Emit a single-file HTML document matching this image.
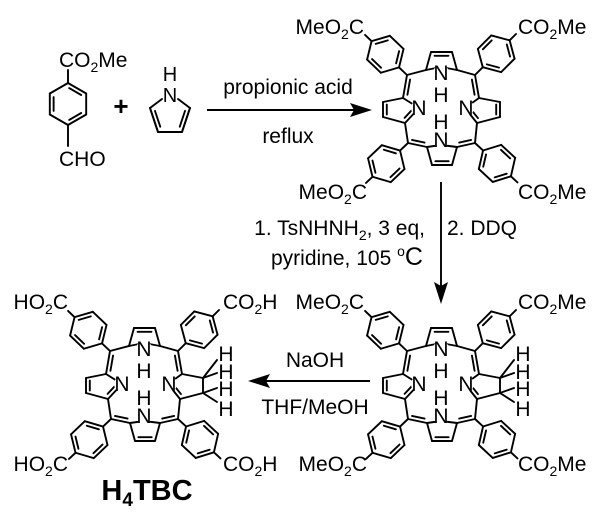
<!DOCTYPE html>
<html><head><meta charset="utf-8"><style>
html,body{margin:0;padding:0;background:#fff;}
svg{display:block;}
text{font-family:"Liberation Sans",Arial,sans-serif;fill:#000;}
</style></head><body>
<svg id="s" width="600" height="519" viewBox="0 0 600 519" xmlns="http://www.w3.org/2000/svg" font-size="21">
<g id="bonds" stroke="#000" stroke-width="1.9" fill="none" stroke-linecap="round"></g>
<g id="masks" fill="#fff"></g>
<g id="txt">
<text x="59" y="67">CO<tspan font-size="14" dy="5">2</tspan><tspan dy="-5">Me</tspan></text>
<text x="59" y="166">CHO</text>
<text x="121" y="115" text-anchor="middle" font-weight="bold" font-size="26">+</text>
<text x="170" y="81" text-anchor="middle" font-size="20">H</text>
<text x="170" y="102" text-anchor="middle" font-size="20">N</text>
<text x="288" y="94" text-anchor="middle">propionic acid</text>
<text x="288" y="143" text-anchor="middle">reflux</text>
<text x="425" y="235" text-anchor="end">1. TsNHNH<tspan font-size="14" dy="5">2</tspan><tspan dy="-5">, 3 eq,</tspan></text>
<text x="271" y="265">pyridine, 105 <tspan font-size="14" dy="-9">o</tspan><tspan dy="9" font-size="25">C</tspan></text>
<text x="447" y="235">2. DDQ</text>
<text x="315" y="367" text-anchor="middle">NaOH</text>
<text x="315" y="414" text-anchor="middle">THF/MeOH</text>
<text x="147" y="500" text-anchor="middle" font-weight="bold" font-size="29">H<tspan font-size="19" dy="6">4</tspan><tspan dy="-6">TBC</tspan></text>
<text x="364" y="34" text-anchor="end">MeO<tspan font-size="14" dy="5">2</tspan><tspan dy="-5">C</tspan></text>
<text x="518" y="34">CO<tspan font-size="14" dy="5">2</tspan><tspan dy="-5">Me</tspan></text>
<text x="367" y="199" text-anchor="end">MeO<tspan font-size="14" dy="5">2</tspan><tspan dy="-5">C</tspan></text>
<text x="518" y="199">CO<tspan font-size="14" dy="5">2</tspan><tspan dy="-5">Me</tspan></text>
<text x="364" y="309" text-anchor="end">MeO<tspan font-size="14" dy="5">2</tspan><tspan dy="-5">C</tspan></text>
<text x="518" y="309">CO<tspan font-size="14" dy="5">2</tspan><tspan dy="-5">Me</tspan></text>
<text x="367" y="471" text-anchor="end">MeO<tspan font-size="14" dy="5">2</tspan><tspan dy="-5">C</tspan></text>
<text x="518" y="471">CO<tspan font-size="14" dy="5">2</tspan><tspan dy="-5">Me</tspan></text>
<text x="68" y="309" text-anchor="end">HO<tspan font-size="14" dy="5">2</tspan><tspan dy="-5">C</tspan></text>
<text x="223" y="309">CO<tspan font-size="14" dy="5">2</tspan><tspan dy="-5">H</tspan></text>
<text x="68" y="471" text-anchor="end">HO<tspan font-size="14" dy="5">2</tspan><tspan dy="-5">C</tspan></text>
<text x="223" y="471">CO<tspan font-size="14" dy="5">2</tspan><tspan dy="-5">H</tspan></text>
</g>
<g id="ptxt" font-size="20"></g>
<g stroke="#000" stroke-width="1.9">
<line x1="207" y1="110" x2="358" y2="110"/>
<line x1="441" y1="182" x2="441" y2="290"/>
<line x1="370" y1="381" x2="262" y2="381"/>
</g>
<g fill="#000">
<polygon points="372,110 350,103 354,110 350,117"/>
<polygon points="441,304 434,282 441,286 448,282"/>
<polygon points="248,381 270,374 266,381 270,388"/>
</g>
</svg>
<script>
var B=document.getElementById('bonds'),M=document.getElementById('masks'),T=document.getElementById('ptxt');
var NS='http://www.w3.org/2000/svg';
function ln(a,b){var l=document.createElementNS(NS,'line');l.setAttribute('x1',a[0]);l.setAttribute('y1',a[1]);l.setAttribute('x2',b[0]);l.setAttribute('y2',b[1]);B.appendChild(l);}
function dbl(a,b,c){ln(a,b);var dx=b[0]-a[0],dy=b[1]-a[1],L=Math.hypot(dx,dy);var nx=-dy/L,ny=dx/L;var mx=(a[0]+b[0])/2-c[0],my=(a[1]+b[1])/2-c[1];if(nx*mx+ny*my>0){nx=-nx;ny=-ny;}var o=3.8,s=0.17;ln([a[0]+dx*s+nx*o,a[1]+dy*s+ny*o],[b[0]-dx*s+nx*o,b[1]-dy*s+ny*o]);}
function mask(x,y,r){var c=document.createElementNS(NS,'circle');c.setAttribute('cx',x);c.setAttribute('cy',y);c.setAttribute('r',r);M.appendChild(c);}
function tx(x,y,s){var t=document.createElementNS(NS,'text');t.setAttribute('x',x);t.setAttribute('y',y);t.setAttribute('text-anchor','middle');t.setAttribute('font-size','21');t.textContent=s;T.appendChild(t);}
function phen(m,d,R){var L=Math.hypot(d[0],d[1]);var u=[d[0]/L,d[1]/L];var p0=[m[0]+u[0]*11,m[1]+u[1]*11];ln(m,p0);var c=[p0[0]+u[0]*R,p0[1]+u[1]*R];var a0=Math.atan2(-u[1],-u[0]);var v=[];for(var k=0;k<6;k++){var a=a0+k*Math.PI/3;v.push([c[0]+R*Math.cos(a),c[1]+R*Math.sin(a)]);}
for(var k=0;k<6;k++){if(k%2==1)dbl(v[k],v[(k+1)%6],c);else ln(v[k],v[(k+1)%6]);}
var p3=v[3];ln(p3,[p3[0]+u[0]*9,p3[1]+u[1]*9]);}
function hexV(c,R,a0,dbls){var v=[];for(var k=0;k<6;k++){var a=a0+k*Math.PI/3;v.push([c[0]+R*Math.cos(a),c[1]+R*Math.sin(a)]);}for(var k=0;k<6;k++){if(dbls.indexOf(k)>=0)dbl(v[k],v[(k+1)%6],c);else ln(v[k],v[(k+1)%6]);}return v;}
function porph(ox,oy,red){function P(x,y){return [x+ox,y+oy];}
var tαL=P(426,70),tβL=P(431,52),tβR=P(452,52),tαR=P(457,70),mTL=P(407,75),mTR=P(475,75),
lαT=P(403,98),lβT=P(383,102),lβB=P(383,117),lαB=P(405,123),rαT=P(479,98),rβT=P(500,102),rβB=P(500,117),rαB=P(477,123),
mBL=P(408,143),mBR=P(475,143),bαL=P(427,147),bβL=P(432,165),bβR=P(452,165),bαR=P(457,147);
var Nt=P(441,67),Nl=P(419,108),Nr=P(465,108),Nb=P(441,145);
var cT=P(441,62),cL=P(397,110),cR=P(486,110),cB=P(441,157),cM=P(441,108);
ln(tαL,tβL);dbl(tβL,tβR,cT);ln(tβR,tαR);ln(tαR,Nt);ln(Nt,tαL);
ln(lαT,lβT);dbl(lβT,lβB,cL);ln(lβB,lαB);ln(Nl,lαT);dbl(lαB,Nl,cL);
ln(rαT,rβT);if(red)ln(rβT,rβB);else dbl(rβT,rβB,cR);ln(rβB,rαB);ln(Nr,rαT);dbl(rαB,Nr,cR);
ln(bαL,bβL);dbl(bβL,bβR,cB);ln(bβR,bαR);ln(bαR,Nb);ln(Nb,bαL);
ln(mTL,tαL);dbl(mTL,lαT,cM);ln(mTR,tαR);dbl(mTR,rαT,cM);ln(mBL,lαB);dbl(mBL,bαL,cM);ln(mBR,rαB);dbl(mBR,bαR,cM);
phen(mTL,[-45,-43],19);phen(mTR,[43,-43],19);phen(mBL,[-41,39],19);phen(mBR,[42,39],19);
mask(ox+441,oy+73,8);mask(ox+419,oy+108,8);mask(ox+466,oy+108,8);mask(ox+441,oy+140,8);
tx(ox+441,oy+80,'N');tx(ox+441,oy+102,'H');tx(ox+441,oy+129,'H');tx(ox+441,oy+147,'N');tx(ox+419,oy+115,'N');tx(ox+466,oy+115,'N');
if(red){ln(rβT,P(514,84));ln(rβT,P(514,97));ln(rβB,P(514,112));ln(rβB,P(514,126));
tx(ox+523,oy+85,'H');tx(ox+523,oy+103,'H');tx(ox+523,oy+120,'H');tx(ox+523,oy+140,'H');}}
porph(0,0,false);porph(0,276,true);porph(-297,276,true);
var v=hexV([68,104],21,-Math.PI/2,[0,2,4]);ln([68,83],[68,70]);ln([68,125],[68,146]);
var N=[170,96],aR=[190,108],bR=[182,132],bL=[158,132],aL=[150,108],pc=[170,115];
ln(aR,bR);ln(bR,bL);ln(bL,aL);dbl(aR,bR,pc);dbl(bL,aL,pc);ln(aL,[162,99]);ln(aR,[178,99]);
</script>
</body></html>
